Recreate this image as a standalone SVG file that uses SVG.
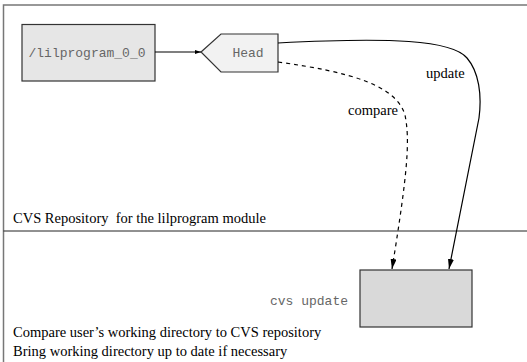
<svg xmlns="http://www.w3.org/2000/svg" width="527" height="362" viewBox="0 0 527 362">
  <style>
    .frame { stroke: #777; stroke-width: 1.5; fill: none; }
    .divider { stroke: #222; stroke-width: 1; fill: none; }
    .node { stroke: #333; stroke-width: 1.2; }
    .mono { font-family: "Liberation Mono", "DejaVu Sans Mono", monospace; font-size: 13px; fill: #666; }
    .serif { font-family: "Liberation Serif", "Times New Roman", serif; font-size: 14.5px; fill: #000; white-space: pre; }
    .edge { stroke: #000; stroke-width: 1.2; fill: none; }
    .dashed { stroke-dasharray: 4 4; }
  </style>
  <defs>
    <marker id="arrow" viewBox="0 0 10 6" refX="10" refY="3" markerWidth="10" markerHeight="6" markerUnits="userSpaceOnUse" orient="auto">
      <path d="M0,0 L10,3 L0,6 z" fill="#000"/>
    </marker>
    <marker id="arrowSmall" viewBox="0 0 6 4" refX="6" refY="2" markerWidth="6" markerHeight="4" markerUnits="userSpaceOnUse" orient="auto">
      <path d="M0,0 L6,2 L0,4 z" fill="#000"/>
    </marker>
  </defs>

  <!-- repository frame and working-area divider -->
  <g id="frame">
    <path class="frame" d="M3.5,362 V5 H527"/>
    <line class="divider" x1="3.5" y1="231" x2="527" y2="231"/>
    <text class="serif" x="13" y="223">CVS Repository  for the lilprogram module</text>
    <text class="serif" x="13" y="337">Compare user’s working directory to CVS repository</text>
    <text class="serif" x="13" y="356">Bring working directory up to date if necessary</text>
  </g>

  <g id="module">
    <rect class="node" x="22" y="24.5" width="133" height="56.5" fill="#e6e6e6"/>
    <text class="mono" x="87" y="56.5" text-anchor="middle">/lilprogram_0_0</text>
  </g>

  <g id="head">
    <polygon class="node" points="201,52 221,34 278,34 278,72 221,72" fill="#f2f2f2"/>
    <text class="mono" x="248" y="56.5" text-anchor="middle">Head</text>
  </g>

  <g id="workdir">
    <rect class="node" x="360" y="270" width="112" height="57" fill="#d9d9d9"/>
    <text class="mono" x="348" y="305" text-anchor="end">cvs update</text>
  </g>

  <g id="connectors">
    <line class="edge" x1="155" y1="52" x2="201" y2="52" marker-end="url(#arrowSmall)"/>
    <path class="edge" d="M278,43 C390,37 452,40 467,58 C479,72 482,95 479,118 L449,269" marker-end="url(#arrow)"/>
    <path class="edge dashed" d="M278,62 C350,72 396,85 405,115 C410,140 408,170 392,269" marker-end="url(#arrow)"/>
    <text class="serif" x="426" y="78">update</text>
    <text class="serif" x="348" y="115">compare</text>
  </g>
</svg>
